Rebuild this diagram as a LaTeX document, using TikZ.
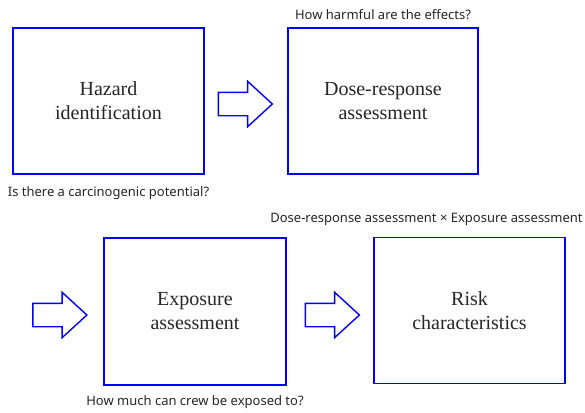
\documentclass[tikz,border=0pt]{standalone}
\usepackage{fontspec}
\setmainfont{Liberation Serif}
\setsansfont{Noto Sans}
\usetikzlibrary{positioning,shapes.arrows}

\begin{document}
\begin{tikzpicture}[x=1pt,y=-1pt,
  stage/.style={draw=blue,line width=1.6pt,minimum height=146pt,align=center,
    font=\rmfamily\fontsize{20}{24}\selectfont,text=black!85},
  bigarrow/.style={single arrow,draw=blue,line width=1.4pt,inner xsep=0pt,inner ysep=11pt,
    text height=0pt,text depth=0pt,minimum height=54pt,
    single arrow head extend=11pt,single arrow tip angle=85},
  note/.style={font=\sffamily\fontsize{13}{15}\selectfont,text=black!85,inner sep=0pt}]

\useasboundingbox (0,0) rectangle (585,412);

% upper row
\node[stage,minimum width=191pt] (hazard) at (108.5,101) {Hazard\\identification};
\node[bigarrow] (arrHD) at (239,104) {};
\node[stage,minimum width=190pt] (dose) at (383,101) {Dose-response\\assessment};
\node[note,above=7pt of dose] (qdose) {How harmful are the effects?};
\node[note,below=12pt of hazard] (qhazard) {Is there a carcinogenic potential?};

% lower row
\node[bigarrow] (arrIn) at (53.5,315) {};
\node[stage,minimum width=182pt,minimum height=147pt] (exposure) at (195,311.5) {Exposure\\assessment};
\node[bigarrow] (arrER) at (326,315) {};
\node[stage,minimum width=191pt] (risk) at (469.5,310.5) {Risk\\characteristics};
\node[note] (qrisk) at (426.5,219) {Dose-response assessment × Exposure assessment};
\node[note,below=10pt of exposure] (qexposure) {How much can crew be exposed to?};

\end{tikzpicture}
\end{document}
